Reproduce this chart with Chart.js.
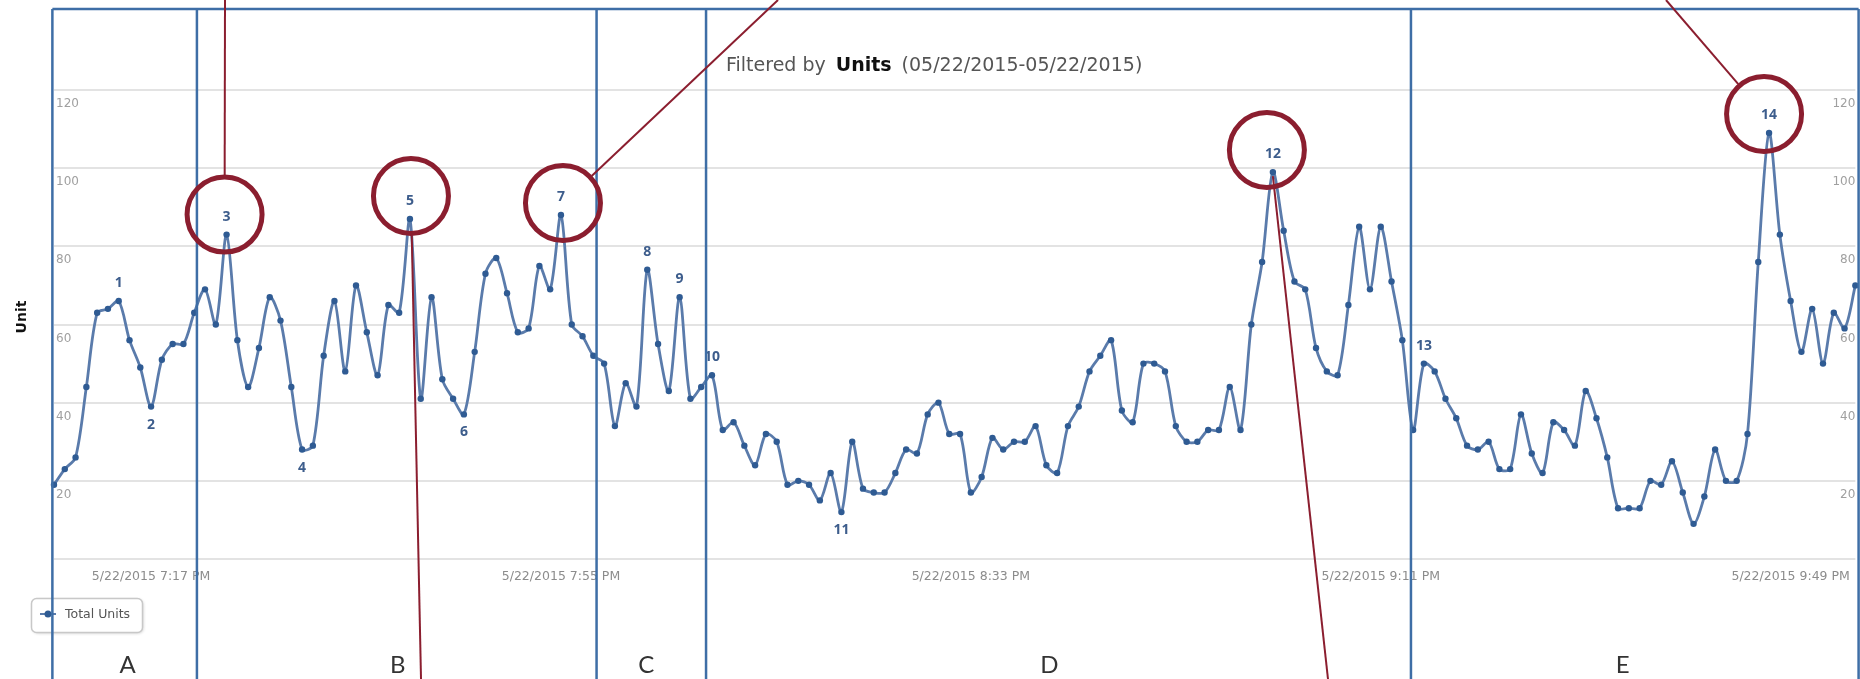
<!DOCTYPE html>
<html>
<head>
<meta charset="utf-8">
<script src="https://cdn.jsdelivr.net/npm/chart.js@4.4.0/dist/chart.umd.min.js"></script>
<style>
  html, body { margin: 0; padding: 0; background: #fff; overflow: hidden; }
  #wrap { position: relative; width: 1860px; height: 679px; }
</style>
</head>
<body>
<div id="wrap"><canvas id="chart" width="1860" height="679"></canvas></div>
<script>
// Total units per minute, 5/22/2015 from 7:08 PM to 9:55 PM
const totalUnits = [
  19, 23, 26, 44, 63, 64, 66, 56, 49, 39, 51, 55, 55, 63, 69, 60, 83, 56, 44, 54,
  67, 61, 44, 28, 29, 52, 66, 48, 70, 58, 47, 65, 63, 87, 41, 67, 46, 41, 37, 53,
  73, 77, 68, 58, 59, 75, 69, 88, 60, 57, 52, 50, 34, 45, 39, 74, 55, 43, 67, 41,
  44, 47, 33, 35, 29, 24, 32, 30, 19, 20, 19, 15, 22, 12, 30, 18, 17, 17, 22, 28,
  27, 37, 40, 32, 32, 17, 21, 31, 28, 30, 30, 34, 24, 22, 34, 39, 48, 52, 56, 38,
  35, 50, 50, 48, 34, 30, 30, 33, 33, 44, 33, 60, 76, 99, 84, 71, 69, 54, 48, 47,
  65, 85, 69, 85, 71, 56, 33, 50, 48, 41, 36, 29, 28, 30, 23, 23, 37, 27, 22, 35,
  33, 29, 43, 36, 26, 13, 13, 13, 20, 19, 25, 17, 9, 16, 28, 20, 20, 32, 76, 109,
  83, 66, 53, 64, 50, 63, 59, 70
];
const firstMinute = 19 * 60 + 8; // 7:08 PM
const tickTimes = ["7:17 PM", "7:55 PM", "8:33 PM", "9:11 PM", "9:49 PM"];

// numbered callouts (1..14) and which point each one marks
const calloutPoints = [6, 9, 16, 23, 33, 38, 47, 55, 58, 61, 73, 113, 127, 159];
const calloutBelow = [false, true, false, true, false, true, false, false, false, false, true, false, false, false];
const circledCallouts = [3, 5, 7, 12, 14];

// sections A-E, edges given as point positions
const sectionNames = ["A", "B", "C", "D", "E"];
const sectionEdges = [-0.15, 13.25, 50.3, 60.45, 125.8, 167.3];

const minuteLabels = totalUnits.map((v, i) => {
  const m = firstMinute + i;
  const h = Math.floor(m / 60) - 12;
  const mm = String(m % 60).padStart(2, "0");
  return "5/22/2015 " + h + ":" + mm + " PM";
});

const LINE = "#5a7bab";
const MARK = "#2f5b93";
const BOX = "#3e6ea6";
const RED = "#8b1e2f";

// little nudges of the red rings, where their pointer lines run off the picture,
// and of the section letters
const ringNudge = [[-2, -20], [1, -23], [2, -12], [-6, -22], [-5, -19]];
const ringLineEnd = [[225, 0], [421, 679], [778, 0], [1328, 679], [1666, 0]];
const letterNudge = [3, 1, -5, -9, -12];

const overlay = {
  id: "overlay",
  afterDraw(chart) {
    const ctx = chart.ctx;
    const xs = chart.scales.x;
    const ys = chart.scales.y;
    ctx.save();

    // title
    ctx.textBaseline = "alphabetic";
    ctx.textAlign = "left";
    let tx = 726;
    const ty = 71;
    ctx.font = '19px "DejaVu Sans"';
    ctx.fillStyle = "#555";
    ctx.fillText("Filtered by", tx, ty);
    tx += ctx.measureText("Filtered by").width + 10;
    ctx.font = 'bold 19px "DejaVu Sans"';
    ctx.fillStyle = "#111";
    ctx.fillText("Units", tx, ty);
    tx += ctx.measureText("Units").width + 10;
    ctx.font = '19px "DejaVu Sans"';
    ctx.fillStyle = "#555";
    ctx.fillText("(05/22/2015-05/22/2015)", tx, ty);

    // y axis title
    ctx.save();
    ctx.translate(22, 317);
    ctx.rotate(-Math.PI / 2);
    ctx.font = 'bold 14px "DejaVu Sans"';
    ctx.fillStyle = "#111";
    ctx.textAlign = "center";
    ctx.textBaseline = "middle";
    ctx.fillText("Unit", 0, 0);
    ctx.restore();

    // legend
    ctx.save();
    ctx.shadowColor = "rgba(0,0,0,0.18)";
    ctx.shadowBlur = 3;
    ctx.shadowOffsetX = 1;
    ctx.shadowOffsetY = 1;
    ctx.fillStyle = "#fff";
    ctx.strokeStyle = "#c8c8c8";
    ctx.lineWidth = 1.5;
    ctx.beginPath();
    ctx.roundRect(31.5, 598.5, 111, 34, 5);
    ctx.fill();
    ctx.shadowColor = "transparent";
    ctx.stroke();
    ctx.restore();
    ctx.strokeStyle = LINE;
    ctx.lineWidth = 2;
    ctx.beginPath();
    ctx.moveTo(40, 614);
    ctx.lineTo(56, 614);
    ctx.stroke();
    ctx.fillStyle = MARK;
    ctx.beginPath();
    ctx.arc(48, 614, 3.5, 0, Math.PI * 2);
    ctx.fill();
    ctx.font = '12.5px "DejaVu Sans"';
    ctx.fillStyle = "#555";
    ctx.textBaseline = "middle";
    ctx.fillText("Total Units", 65, 615);

    // numbered callouts
    ctx.font = 'bold 14px "Open Sans"';
    ctx.fillStyle = "#3d5d8c";
    ctx.textAlign = "center";
    calloutPoints.forEach((p, k) => {
      const px = xs.getPixelForValue(p);
      const py = ys.getPixelForValue(totalUnits[p]);
      ctx.fillText(String(k + 1), px, calloutBelow[k] ? py + 18 : py - 18);
    });

    // sections
    ctx.strokeStyle = BOX;
    ctx.lineWidth = 2.5;
    const edgeX = sectionEdges.map((e) => xs.getPixelForValue(e));
    ctx.beginPath();
    edgeX.forEach((x) => {
      ctx.moveTo(x, 9);
      ctx.lineTo(x, 700);
    });
    ctx.moveTo(edgeX[0], 9);
    ctx.lineTo(edgeX[edgeX.length - 1], 9);
    ctx.stroke();
    ctx.font = '24px "Lato"';
    ctx.fillStyle = "#333";
    ctx.textAlign = "center";
    ctx.textBaseline = "middle";
    sectionNames.forEach((n, k) => {
      ctx.fillText(n, (edgeX[k] + edgeX[k + 1]) / 2 + letterNudge[k], 665);
    });

    // red rings with pointer lines
    ctx.strokeStyle = RED;
    circledCallouts.forEach((c, k) => {
      const p = calloutPoints[c - 1];
      const px = xs.getPixelForValue(p);
      const py = ys.getPixelForValue(totalUnits[p]);
      const cx = px + ringNudge[k][0];
      const cy = py + ringNudge[k][1];
      const r = 37.5;
      ctx.lineWidth = 5;
      ctx.beginPath();
      ctx.arc(cx, cy, r, 0, Math.PI * 2);
      ctx.stroke();
      const [ex, ey] = ringLineEnd[k];
      let sx, sy;
      if (c === 12) {
        sx = px; sy = py + 4;
      } else {
        const a = Math.atan2(ey - cy, ex - cx);
        sx = cx + Math.cos(a) * (r + 2);
        sy = cy + Math.sin(a) * (r + 2);
      }
      ctx.lineWidth = 2;
      ctx.beginPath();
      ctx.moveTo(sx, sy);
      ctx.lineTo(ex, ey);
      ctx.stroke();
    });

    ctx.restore();
  }
};

new Chart(document.getElementById("chart"), {
  type: "line",
  data: {
    labels: minuteLabels,
    datasets: [{
      label: "Total Units",
      data: totalUnits,
      borderColor: LINE,
      borderWidth: 2.8,
      tension: 0.3,
      pointRadius: 3.2,
      pointBackgroundColor: MARK,
      pointBorderColor: MARK,
      pointBorderWidth: 0,
      yAxisID: "y"
    }]
  },
  options: {
    responsive: false,
    devicePixelRatio: 1,
    animation: false,
    layout: { padding: { left: 50, right: 0, top: 90, bottom: 85 } },
    plugins: {
      legend: { display: false },
      tooltip: { enabled: false }
    },
    scales: {
      x: {
        type: "category",
        offset: false,
        grid: { display: false, drawTicks: false },
        border: { display: false },
        ticks: {
          autoSkip: false,
          maxRotation: 0,
          minRotation: 0,
          padding: 10,
          color: "#8c8c8c",
          font: { family: "DejaVu Sans", size: 12.5 },
          callback(value) {
            const l = this.getLabelForValue(value);
            return tickTimes.some((t) => l.endsWith(" " + t)) ? l : null;
          }
        }
      },
      y: {
        position: "left",
        min: 0,
        max: 120,
        grid: { color: "#e3e3e3", lineWidth: 2, drawTicks: false },
        border: { display: false },
        ticks: {
          stepSize: 20,
          mirror: true,
          padding: 2,
          labelOffset: 14,
          color: "#a0a0a0",
          font: { family: "DejaVu Sans", size: 12 },
          callback: (v) => (v === 0 ? "" : v)
        }
      },
      yRight: {
        position: "right",
        min: 0,
        max: 120,
        grid: { display: false, drawTicks: false },
        border: { display: false },
        ticks: {
          stepSize: 20,
          mirror: true,
          padding: 0,
          labelOffset: 14,
          color: "#a0a0a0",
          font: { family: "DejaVu Sans", size: 12 },
          callback: (v) => (v === 0 ? "" : v)
        }
      }
    }
  },
  plugins: [overlay]
});
</script>
</body>
</html>
